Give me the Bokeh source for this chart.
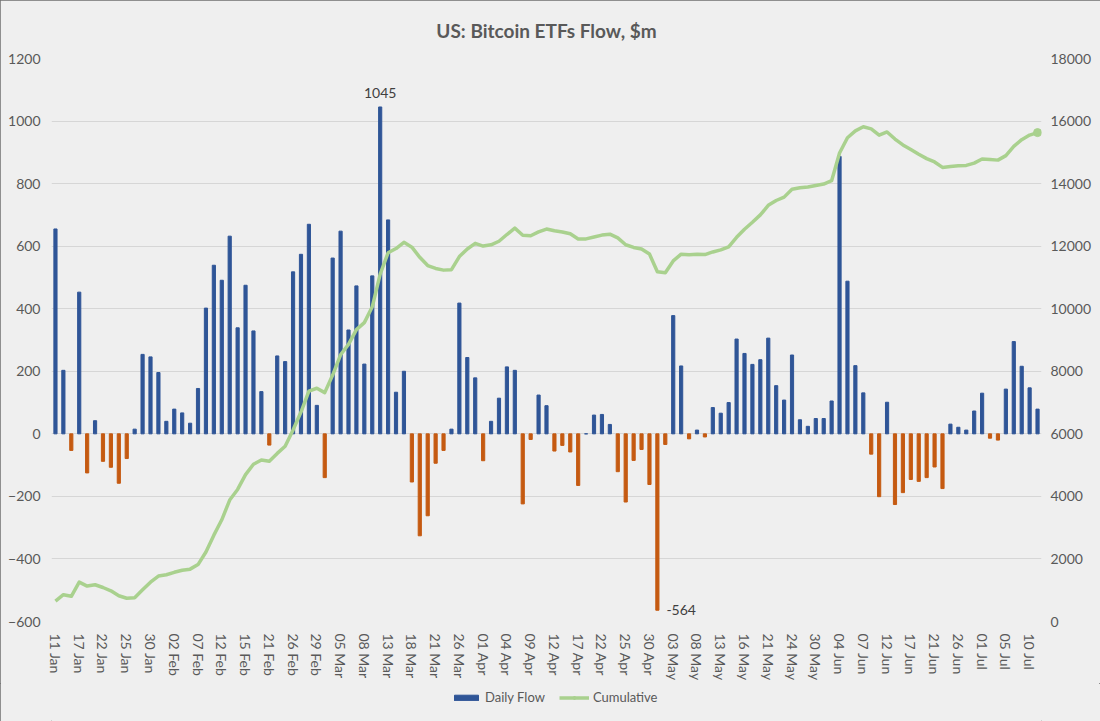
import numpy as np
from bokeh.plotting import figure
from bokeh.layouts import column
from bokeh.models import Range1d, LinearAxis, FixedTicker, Legend, LegendItem, Label, ColumnDataSource
from bokeh.embed import file_html
from bokeh.resources import INLINE

# ---------------- data ----------------
DATES = [
    "11 Jan", "12 Jan", "16 Jan", "17 Jan", "18 Jan", "19 Jan", "22 Jan", "23 Jan", "24 Jan", "25 Jan",
    "26 Jan", "29 Jan", "30 Jan", "31 Jan",
    "01 Feb", "02 Feb", "05 Feb", "06 Feb", "07 Feb", "08 Feb", "09 Feb", "12 Feb", "13 Feb", "14 Feb",
    "15 Feb", "16 Feb", "20 Feb", "21 Feb", "22 Feb", "23 Feb", "26 Feb", "27 Feb", "28 Feb", "29 Feb",
    "01 Mar", "04 Mar", "05 Mar", "06 Mar", "07 Mar", "08 Mar", "11 Mar", "12 Mar", "13 Mar", "14 Mar",
    "15 Mar", "18 Mar", "19 Mar", "20 Mar", "21 Mar", "22 Mar", "25 Mar", "26 Mar", "27 Mar", "28 Mar",
    "01 Apr", "02 Apr", "03 Apr", "04 Apr", "05 Apr", "08 Apr", "09 Apr", "10 Apr", "11 Apr", "12 Apr",
    "15 Apr", "16 Apr", "17 Apr", "18 Apr", "19 Apr", "22 Apr", "23 Apr", "24 Apr", "25 Apr", "26 Apr",
    "29 Apr", "30 Apr",
    "01 May", "02 May", "03 May", "06 May", "07 May", "08 May", "09 May", "10 May", "13 May", "14 May",
    "15 May", "16 May", "17 May", "20 May", "21 May", "22 May", "23 May", "24 May", "28 May", "29 May",
    "30 May", "31 May",
    "03 Jun", "04 Jun", "05 Jun", "06 Jun", "07 Jun", "10 Jun", "11 Jun", "12 Jun", "13 Jun", "14 Jun",
    "17 Jun", "18 Jun", "20 Jun", "21 Jun", "24 Jun", "25 Jun", "26 Jun", "27 Jun", "28 Jun",
    "01 Jul", "02 Jul", "03 Jul", "05 Jul", "08 Jul", "09 Jul", "10 Jul", "11 Jul",
]

DAILY_FLOW = [
    655, 203, -53, 453, -125, 42, -88, -107, -158, -79,
    15, 254, 246, 196,
    40, 79, 67, 34, 145, 402, 539, 491, 632, 339,
    475, 329, 135, -36, 249, 231, 518, 574, 670, 91,
    -140, 562, 648, 332, 473, 223, 505, 1045, 684, 133,
    200, -154, -326, -262, -94, -53, 15, 418, 244, 179,
    -86, 40, 114, 214, 203, -224, -18, 124, 90, -55,
    -37, -58, -165, 0, 60, 62, 30, -121, -218, -85,
    -50, -162,
    -564, -34, 378, 217, -16, 12, -10, 84, 66, 100,
    303, 257, 222, 237, 306, 154, 108, 252, 45, 24,
    49, 49,
    105, 887, 488, 218, 131, -65, -201, 101, -226, -188,
    -146, -152, -140, -106, -175, 31, 21, 12, 73,
    130, -14, -20, 143, 295, 216, 147, 79,
]

CUMULATIVE = np.cumsum(DAILY_FLOW)  # running total of the daily flows

LEFT_TICKS = [-600, -400, -200, 0, 200, 400, 600, 800, 1000, 1200]
RIGHT_TICKS = [0, 2000, 4000, 6000, 8000, 10000, 12000, 14000, 16000, 18000]
LABEL_STEP = 3  # a date label every third trading day

# ---------------- styles ----------------
BG = "#EFEFEF"
BLUE = "#2F5597"
ORANGE = "#C55A11"
GREEN = "#A9D18E"
TXT = "#595959"
FONT = "Lato"

x = np.arange(len(DATES))
flows = np.array(DAILY_FLOW, dtype=float)
is_pos = flows >= 0

src_pos = ColumnDataSource(dict(x=x[is_pos], top=flows[is_pos]))
src_neg = ColumnDataSource(dict(x=x[~is_pos], top=flows[~is_pos]))
src_cum = ColumnDataSource(dict(x=x, y=CUMULATIVE))
src_end = ColumnDataSource(dict(x=x[-1:], y=CUMULATIVE[-1:]))

p = figure(width=1100, height=683, output_backend="svg", toolbar_location=None,
           x_range=Range1d(-0.5, len(DATES) - 0.5), y_range=Range1d(LEFT_TICKS[0], LEFT_TICKS[-1]),
           min_border_left=51, min_border_right=59, min_border_top=58, min_border_bottom=61,
           background_fill_color=BG, border_fill_color=BG, outline_line_color=None)
p.extra_y_ranges = {"cum": Range1d(RIGHT_TICKS[0], RIGHT_TICKS[-1])}

p.title.text = "US: Bitcoin ETFs Flow, $m"
p.title.align = "center"
p.title.text_font = FONT
p.title.text_font_size = "19px"
p.title.text_font_style = "bold"
p.title.text_color = TXT
p.title.standoff = 21
p.title.padding = 6

r_pos = p.vbar(x="x", top="top", bottom=0, width=0.4, source=src_pos,
               fill_color=BLUE, line_color=BLUE)
r_neg = p.vbar(x="x", top="top", bottom=0, width=0.4, source=src_neg,
               fill_color=ORANGE, line_color=ORANGE)
r_line = p.line(x="x", y="y", source=src_cum, y_range_name="cum",
                line_color=GREEN, line_width=3.5, line_join="round")
r_end = p.scatter(x="x", y="y", source=src_end, y_range_name="cum", size=8,
                  fill_color=GREEN, line_color=GREEN)

# axes
p.xaxis.ticker = FixedTicker(ticks=[int(i) for i in x[::LABEL_STEP]])
p.xaxis.major_label_overrides = {int(i): DATES[i] for i in x[::LABEL_STEP]}
p.xaxis.major_label_orientation = "vertical"
p.yaxis.ticker = FixedTicker(ticks=LEFT_TICKS)

right = LinearAxis(y_range_name="cum", ticker=FixedTicker(ticks=RIGHT_TICKS))
p.add_layout(right, "right")

for ax in p.axis:
    ax.axis_line_color = None
    ax.major_tick_line_color = None
    ax.minor_tick_line_color = None
    ax.major_label_text_color = TXT
    ax.major_label_text_font = FONT
    ax.major_label_text_font_size = "14px"
p.xaxis.major_label_standoff = 6
p.yaxis.major_label_standoff = 5
right.major_label_standoff = 3

p.xgrid.grid_line_color = None
p.ygrid.grid_line_color = "#D6D6D6"
p.ygrid.grid_line_width = 1

# data labels for extremes
imax = int(np.argmax(flows))
imin = int(np.argmin(flows))
p.add_layout(Label(x=imax, y=flows[imax], text=f"{int(flows[imax])}", text_align="center",
                   text_baseline="bottom", y_offset=9, text_font=FONT,
                   text_font_size="14px", text_color="#404040"))
p.add_layout(Label(x=imin, y=flows[imin], text=f"{int(flows[imin])}", text_align="left",
                   text_baseline="middle", x_offset=9, text_font=FONT,
                   text_font_size="14px", text_color="#404040"))

# ---------------- legend strip under the chart ----------------
# hidden proxies share the chart's sources; only their legend swatches are drawn
pl = figure(width=1100, height=38, output_backend="svg", toolbar_location=None,
            x_range=Range1d(-0.5, len(DATES) - 0.5), y_range=Range1d(LEFT_TICKS[0], LEFT_TICKS[-1]),
            min_border_left=0, min_border_right=0, min_border_top=0, min_border_bottom=0,
            background_fill_color=BG, border_fill_color=BG, outline_line_color=None)
pl.axis.visible = False
pl.grid.visible = False
k_bar = pl.vbar(x="x", top="top", bottom=0, width=0.4, source=src_pos,
                fill_color=BLUE, line_color=BLUE, visible=False)
k_line = pl.line(x="x", y="y", source=src_cum, line_color=GREEN, line_width=3.5, visible=False)
k_dot = pl.scatter(x="x", y="y", source=src_end, size=8, fill_color=GREEN, line_color=GREEN,
                   visible=False)

legend = Legend(items=[LegendItem(label="Daily Flow", renderers=[k_bar]),
                       LegendItem(label="Cumulative", renderers=[k_line, k_dot])],
                orientation="horizontal", location=(400, 16),
                glyph_width=30, glyph_height=7, label_height=7, label_standoff=4,
                spacing=14, padding=0, margin=0,
                label_text_font=FONT, label_text_font_size="13px", label_text_color=TXT,
                background_fill_alpha=0, border_line_color=None,
                inactive_fill_alpha=0)
pl.add_layout(legend, "center")

layout = column(p, pl, spacing=0,
                styles={"outline": "1px solid #6F6F6F", "outline-offset": "-1px",
                        "background-color": BG})

open("out.html", "w").write(file_html(layout, INLINE))
